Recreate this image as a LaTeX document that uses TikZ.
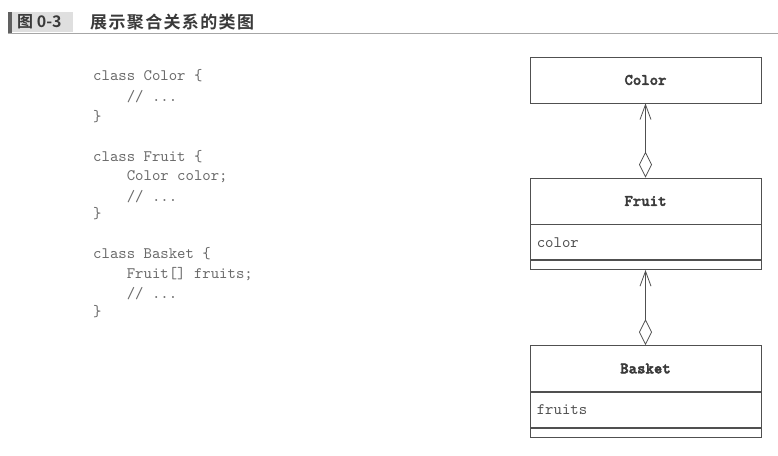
\documentclass[tikz,border=0pt]{standalone}
\usepackage{fontspec}
\usetikzlibrary{arrows.meta}
\newfontfamily\codefont{lmmono10-regular.otf}
\newfontfamily\codebold[FakeBold=2.5]{lmmonolt10-bold.otf}
\newfontfamily\cjkb[LetterSpace=8]{Noto Sans CJK SC Bold}
\newfontfamily\cjkhead{Noto Sans CJK SC Bold}
\definecolor{codegray}{HTML}{6A6A6A}
\definecolor{linegray}{HTML}{505050}
\definecolor{headgray}{HTML}{3A3A3A}
\begin{document}
\begin{tikzpicture}[x=1pt,y=-1pt,
  code/.style={anchor=west,inner sep=0pt,font=\codefont\fontsize{16}{18}\selectfont,text=codegray},
  umlbox/.style={draw=linegray,line width=0.8pt,minimum width=231pt,inner sep=0pt},
  cname/.style={umlbox,minimum height=46pt,font=\codebold\fontsize{16}{18}\selectfont,text=headgray},
  cattr/.style={umlbox,minimum height=35pt},
  cops/.style={umlbox,minimum height=9pt},
  attrtext/.style={anchor=west,inner sep=0pt,font=\codefont\fontsize{16}{18}\selectfont,text=linegray},
  agg/.style={draw=linegray,line width=0.8pt,{Diamond[open,length=26pt,width=13pt,line width=0.8pt]}-{Straight Barb[length=15pt,width=11pt,line width=0.8pt]}}
]
\useasboundingbox (0,0) rectangle (778,455);
% header
\fill[gray!25] (12,12) rectangle (73,32);
\fill[headgray!80] (8,12) rectangle (12,33);
\draw[gray!70,line width=1.4pt] (8,33.5) -- (778,33.5);
\node[anchor=west,inner sep=0pt,text=headgray,font=\cjkhead\fontsize{16}{18}\selectfont] (fig) at (17,22) {图 0-3};
\node[anchor=west,inner sep=0pt,text=headgray,font=\cjkb\fontsize{17}{18}\selectfont] (title) at (90,22) {展示聚合关系的类图};
% code
\node[code] (c1) at (93,76) {class Color \{};
\node[code] (c2) at (93,97) {\ \ \ \ // ...};
\node[code] (c3) at (93,117) {\}};
\node[code] (c4) at (93,157) {class Fruit \{};
\node[code] (c5) at (93,177) {\ \ \ \ Color color;};
\node[code] (c6) at (93,197) {\ \ \ \ // ...};
\node[code] (c7) at (93,214) {\}};
\node[code] (c8) at (93,254) {class Basket \{};
\node[code] (c9) at (93,274) {\ \ \ \ Fruit[] fruits;};
\node[code] (c10) at (93,294) {\ \ \ \ // ...};
\node[code] (c11) at (93,312) {\}};
% UML
\node[cname] (color) at (645.5,80) {Color};
\node[cname] (fruit) at (645.5,201) {Fruit};
\node[cattr,anchor=north] (fruita) at (fruit.south) {};
\node[cops,anchor=north] (fruito) at (fruita.south) {};
\node[attrtext] (fruitt) at ([xshift=7pt]fruita.west) {color};
\node[cname] (basket) at (645.5,368.5) {Basket};
\node[cattr,anchor=north] (basketa) at (basket.south) {};
\node[cops,anchor=north] (basketo) at (basketa.south) {};
\node[attrtext] (baskett) at ([xshift=7pt]basketa.west) {fruits};
\draw[agg] (fruit.north) -- (color.south);
\draw[agg] (basket.north) -- (fruito.south);
\end{tikzpicture}
\end{document}
